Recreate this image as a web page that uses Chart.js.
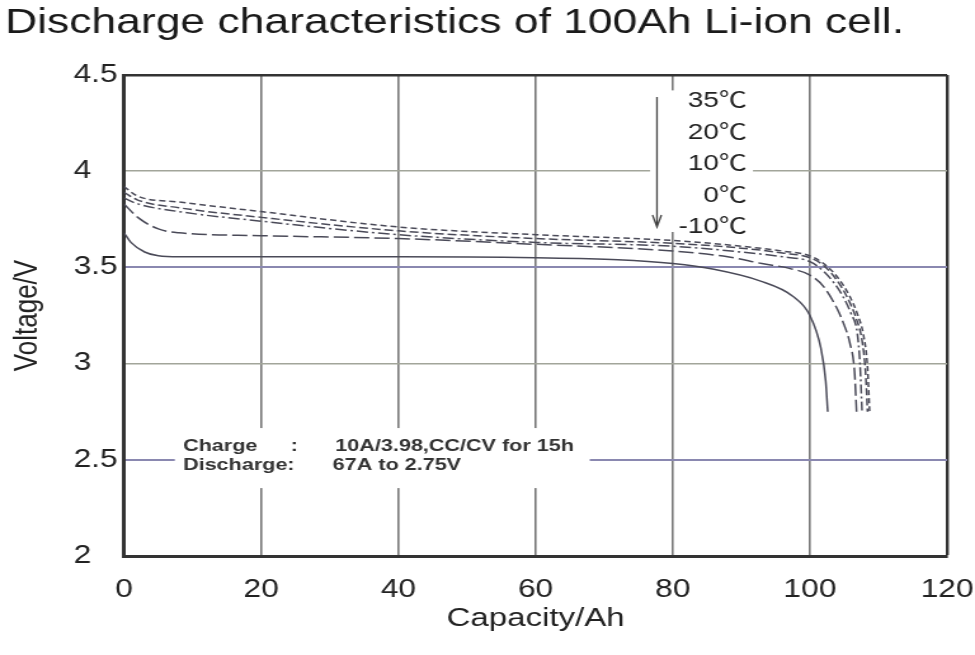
<!DOCTYPE html>
<html>
<head>
<meta charset="utf-8">
<title>Discharge characteristics of 100Ah Li-ion cell</title>
<script src="https://cdn.jsdelivr.net/npm/chart.js@4.4.1/dist/chart.umd.min.js"></script>
<style>
  html, body { margin: 0; padding: 0; background: #fff; }
  #discharge { display: block; }
</style>
</head>
<body>
<!-- drawn on a narrower canvas and widened by CSS, like the original print -->
<canvas id="discharge" width="768" height="655" style="width:975px;height:655px"></canvas>
<script>
'use strict';

const temps = ['35℃', '20℃', '10℃', '0℃', '-10℃'];

const cap35  = [0, 2, 8, 20, 40, 60, 80, 90, 96, 100, 102, 104, 105.8, 107, 107.8, 108.4, 108.7];
const volt35 = [3.92, 3.87, 3.84, 3.79, 3.71, 3.67, 3.64, 3.61, 3.585, 3.56, 3.52, 3.45, 3.35, 3.25, 3.15, 2.98, 2.75];

const cap20  = [0, 2, 8, 20, 40, 60, 80, 90, 96, 100, 102, 104, 105.5, 106.8, 107.6, 108.1, 108.4];
const volt20 = [3.89, 3.85, 3.81, 3.76, 3.69, 3.65, 3.625, 3.6, 3.575, 3.55, 3.51, 3.43, 3.34, 3.23, 3.12, 2.96, 2.75];

const cap10  = [0, 2, 8, 20, 40, 60, 80, 90, 96, 100, 102, 103.5, 104.8, 106, 106.9, 107.3, 107.6];
const volt10 = [3.86, 3.83, 3.79, 3.74, 3.67, 3.63, 3.61, 3.58, 3.555, 3.53, 3.48, 3.42, 3.35, 3.26, 3.16, 3.0, 2.75];

const cap0  = [0, 2, 5, 8, 20, 40, 60, 80, 88, 93, 97, 100, 102, 103.9, 105, 105.8, 106.5, 106.8];
const volt0 = [3.83, 3.76, 3.7, 3.68, 3.665, 3.65, 3.62, 3.585, 3.555, 3.52, 3.495, 3.46, 3.4, 3.29, 3.2, 3.11, 2.96, 2.75];

const capM10  = [0, 1, 3, 5, 8, 20, 40, 60, 72, 80, 86, 92.7, 97.5, 100, 101.6, 102.3, 102.6];
const voltM10 = [3.68, 3.63, 3.58, 3.56, 3.555, 3.555, 3.555, 3.55, 3.54, 3.52, 3.49, 3.43, 3.35, 3.25, 3.08, 2.91, 2.75];

const chargeNote = ['Charge', ':', '10A/3.98,CC/CV for 15h'];
const dischargeNote = ['Discharge:', '67A to 2.75V'];

const FONT = '"Liberation Sans", Arial, "Noto Sans CJK JP", sans-serif';

function points(caps, volts) {
    return caps.map((c, i) => ({ x: c, y: volts[i] }));
}

const series = [
    { data: points(cap35, volt35), dash: [5, 3] },
    { data: points(cap20, volt20), dash: [7, 3] },
    { data: points(cap10, volt10), dash: [9, 3, 2, 3] },
    { data: points(cap0, volt0), dash: [12, 4] },
    { data: points(capM10, voltM10), dash: [] }
];

// white patches behind the notes, then the notes themselves
const notes = {
    id: 'notes',
    beforeDatasetsDraw(chart) {
        const { ctx, scales: { x, y } } = chart;
        const patch = (x0, x1, y0, y1) => {
            const l = x.getPixelForValue(x0), r = x.getPixelForValue(x1);
            const t = y.getPixelForValue(y0), b = y.getPixelForValue(y1);
            ctx.fillRect(l, t, r - l, b - t);
        };
        ctx.save();
        ctx.fillStyle = '#fff';
        patch(76.7, 91.7, 4.42, 3.684);
        patch(7.4, 67.9, 2.665, 2.353);
        ctx.restore();
    },
    afterDatasetsDraw(chart) {
        const { ctx, scales: { x, y } } = chart;
        ctx.save();

        // arrow pointing from the warm curves down to the cold one
        const ax = x.getPixelForValue(77.7);
        const top = y.getPixelForValue(4.386);
        const tip = y.getPixelForValue(3.71);
        ctx.strokeStyle = '#444';
        ctx.lineWidth = 1.3;
        ctx.beginPath();
        ctx.moveTo(ax, top);
        ctx.lineTo(ax, tip);
        ctx.moveTo(ax - 3.5, tip - 12);
        ctx.lineTo(ax, tip);
        ctx.lineTo(ax + 3.5, tip - 12);
        ctx.stroke();

        ctx.fillStyle = '#222';
        ctx.font = '22px ' + FONT;
        ctx.textAlign = 'right';
        ctx.textBaseline = 'middle';
        const lx = x.getPixelForValue(90.8);
        const ly = y.getPixelForValue(4.365);
        temps.forEach((t, i) => ctx.fillText(t, lx, ly + i * 31.6));

        ctx.font = 'bold 17px ' + FONT;
        ctx.fillStyle = '#333';
        ctx.textAlign = 'left';
        const r1 = y.getPixelForValue(2.572), r2 = y.getPixelForValue(2.473);
        const c0 = x.getPixelForValue(8.6), c1 = x.getPixelForValue(24.3), c2 = x.getPixelForValue(30.8);
        ctx.fillText(chargeNote[0], c0, r1);
        ctx.fillText(chargeNote[1], c1, r1);
        ctx.fillText(chargeNote[2], c2, r1);
        ctx.fillText(dischargeNote[0], c0, r2);
        ctx.fillText(dischargeNote[1], c2 - 2, r2);
        ctx.restore();
    }
};

new Chart(document.getElementById('discharge'), {
    type: 'line',
    data: {
        datasets: series.map((s, i) => ({
            label: temps[i],
            data: s.data,
            borderColor: '#4a4a58',
            borderWidth: 1.5,
            borderDash: s.dash,
            pointRadius: 0,
            cubicInterpolationMode: 'monotone',
            fill: false
        }))
    },
    options: {
        responsive: false,
        animation: false,
        layout: { padding: { left: 4, right: 0, top: 0, bottom: 0 } },
        plugins: {
            legend: { display: false },
            tooltip: { enabled: false },
            title: {
                display: true,
                text: 'Discharge characteristics of 100Ah Li-ion cell.',
                align: 'start',
                color: '#1a1a1a',
                font: { family: FONT, size: 35, weight: 'normal' },
                padding: { top: 2, bottom: 31 }
            }
        },
        scales: {
            x: {
                type: 'linear',
                min: 0,
                max: 120,
                afterFit(scale) {
                    scale.height = 99;
                    // keep just half of the "120" label as right margin
                    scale.paddingLeft = 8;
                    scale.paddingRight = 22;
                },
                ticks: { stepSize: 20, padding: 19, color: '#222', font: { family: FONT, size: 25 } },
                grid: {
                    drawTicks: false,
                    color: ctx => ctx.tick && ctx.tick.value === 120 ? '#333' : '#777',
                    lineWidth: ctx => ctx.tick && ctx.tick.value === 120 ? 2.4 : 1.6
                },
                border: { color: '#333', width: 3 },
                title: {
                    display: true,
                    text: 'Capacity/Ah',
                    color: '#222',
                    font: { family: FONT, size: 26 },
                    padding: { top: 0, bottom: 21 }
                }
            },
            y: {
                type: 'linear',
                min: 2,
                max: 4.5,
                afterFit(scale) { scale.width = 93.7; },
                ticks: {
                    stepSize: 0.5,
                    padding: 5,
                    color: '#222',
                    font: { family: FONT, size: 25 },
                    // whole volts keep the same left edge as the half-volt labels
                    callback: v => Number.isInteger(v) ? v + '\u2008\u2007' : String(v)
                },
                grid: {
                    drawTicks: false,
                    color: ctx => {
                        const v = ctx.tick && ctx.tick.value;
                        if (v === 4.5) return '#333';
                        if (v === 3.5 || v === 2.5) return '#8a88b0';
                        return '#a2a59a';
                    },
                    lineWidth: ctx => {
                        const v = ctx.tick && ctx.tick.value;
                        if (v === 4.5) return 2.4;
                        return v === 3.5 || v === 2.5 ? 2 : 1.5;
                    }
                },
                border: { color: '#333', width: 3 },
                title: {
                    display: true,
                    text: 'Voltage/V',
                    color: '#222',
                    font: { family: FONT, size: 26 },
                    padding: { top: 2.4, bottom: 0 }
                }
            }
        }
    },
    plugins: [notes]
});
</script>
</body>
</html>
